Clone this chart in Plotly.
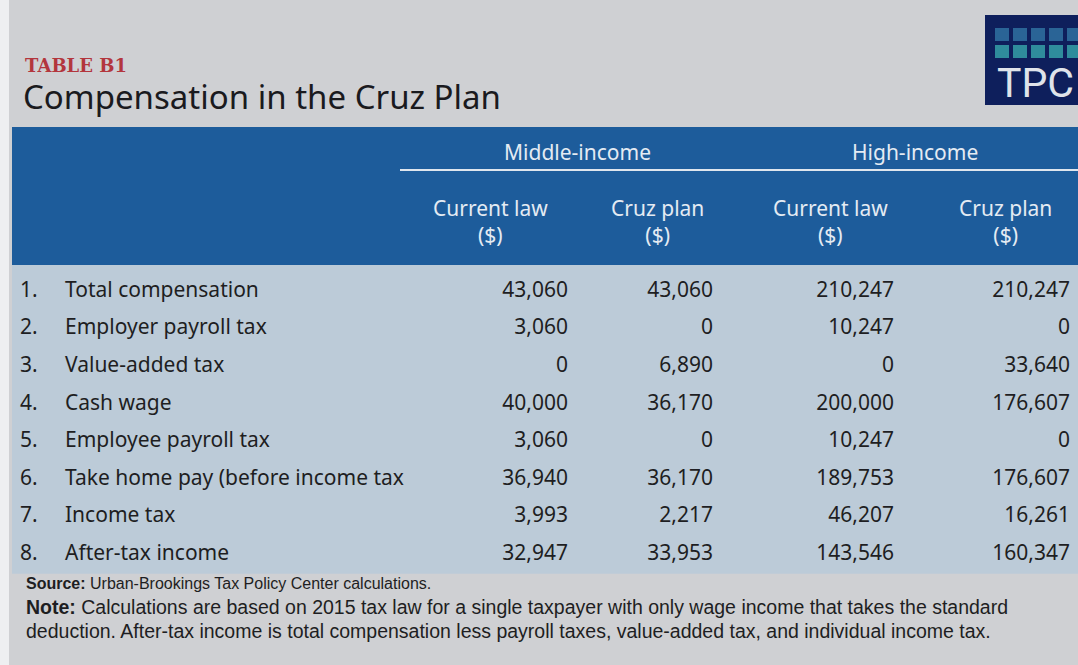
import plotly.graph_objects as go

W, H = 1078, 665

row_nums = ["1.", "2.", "3.", "4.", "5.", "6.", "7.", "8."]
row_labels = ["Total compensation", "Employer payroll tax", "Value-added tax",
              "Cash wage", "Employee payroll tax",
              "Take home pay (before income tax", "Income tax", "After-tax income"]
mid_current = [43060, 3060, 0, 40000, 3060, 36940, 3993, 32947]
mid_cruz = [43060, 0, 6890, 36170, 0, 36170, 2217, 33953]
high_current = [210247, 10247, 0, 200000, 10247, 189753, 46207, 143546]
high_cruz = [210247, 0, 33640, 176607, 0, 176607, 16261, 160347]
group_labels = ["Middle-income", "High-income"]
sub_labels = ["Current law<br>($)", "Cruz plan<br>($)", "Current law<br>($)", "Cruz plan<br>($)"]

BLUE = "#1d5c9b"
BODY = "#bccbd8"
BG = "#cfd0d3"
TXT = "#1e1e22"
HDR_TXT = "#e4ebf3"
FONT = "Noto Sans, Lato, sans-serif"
FOOT = "Liberation Sans, sans-serif"


def fmt(v):
    return [f"{x:,}" for x in v]


def px(x):
    return x / W


def py(y):
    return 1 - y / H


col_px = [45, 363, 156, 145, 181, 176]
tbl_x0, tbl_x1 = 12, 1078
band_top, band_bottom = 127, 265
row_h = 37.6
gap_h = 8
body_bottom = band_bottom + gap_h + 8 * row_h

fig = go.Figure()
fig.add_trace(go.Table(
    domain=dict(x=[px(tbl_x0), px(tbl_x1)], y=[py(body_bottom), py(band_bottom)]),
    columnwidth=col_px,
    header=dict(
        values=[""] * 6,
        fill_color=BODY,
        line_color=BODY,
        height=gap_h,
        font=dict(size=1),
    ),
    cells=dict(
        values=[row_nums, row_labels, fmt(mid_current), fmt(mid_cruz),
                fmt(high_current), fmt(high_cruz)],
        fill_color=BODY,
        line_color=BODY,
        align=["left", "left", "right", "right", "right", "right"],
        font=dict(family=FONT, size=21, color=TXT),
        height=row_h,
    ),
))

shapes = [
    dict(type="rect", xref="paper", yref="paper", x0=0, x1=px(9),
         y0=0, y1=1, fillcolor="#eeeff1", line_width=0, layer="below"),
    dict(type="rect", xref="paper", yref="paper", x0=px(tbl_x0), x1=px(tbl_x1),
         y0=py(body_bottom), y1=py(band_bottom), fillcolor=BODY, line_width=0, layer="below"),
    dict(type="rect", xref="paper", yref="paper", x0=px(tbl_x0), x1=px(tbl_x1),
         y0=py(band_bottom), y1=py(band_top), fillcolor=BLUE, line_width=0, layer="below"),
    dict(type="line", xref="paper", yref="paper", x0=px(400), x1=px(1078),
         y0=py(170), y1=py(170), line=dict(color="#dfe6ee", width=2)),
    dict(type="rect", xref="paper", yref="paper", x0=px(985), x1=px(1078),
         y0=py(105), y1=py(15), fillcolor="#0e1f5c", line_width=0),
]
# TPC logo squares
sq_colors = ["#2a6496", "#2f8c9c"]
for r in range(2):
    for c in range(5):
        x0 = 995 + c * 18
        y0 = 28 + r * 17
        shapes.append(dict(type="rect", xref="paper", yref="paper",
                           x0=px(x0), x1=px(x0 + 14), y0=py(y0 + 13), y1=py(y0),
                           fillcolor=sq_colors[r], line_width=0))

hdr_centers = [490, 657, 830, 1005]
annotations = [
    dict(text="<b>TABLE B1</b>", x=px(23), y=py(65), xanchor="left", yanchor="middle",
         font=dict(family="DejaVu Serif, serif", size=18, color="#b3363d")),
    dict(text="Compensation in the Cruz Plan", x=px(21), y=py(96), xanchor="left",
         yanchor="middle", font=dict(family=FONT, size=33, color="#1a1a1e")),
    dict(text="TPC", x=px(995), y=py(83), xanchor="left", yanchor="middle",
         font=dict(family="Roboto, sans-serif", size=41, color="#dfe3ea")),
    dict(text=group_labels[0], x=px(577), y=py(152), xanchor="center", yanchor="middle",
         font=dict(family=FONT, size=21, color=HDR_TXT)),
    dict(text=group_labels[1], x=px(915), y=py(152), xanchor="center", yanchor="middle",
         font=dict(family=FONT, size=21, color=HDR_TXT)),
    dict(text="<b>Source:</b> Urban-Brookings Tax Policy Center calculations.",
         x=px(24), y=py(583), xanchor="left", yanchor="middle",
         font=dict(family=FOOT, size=16, color=TXT)),
    dict(text="<b>Note:</b> Calculations are based on 2015 tax law for a single taxpayer with only wage income that takes the standard",
         x=px(24), y=py(607), xanchor="left", yanchor="middle",
         font=dict(family=FOOT, size=19.5, color=TXT)),
    dict(text="deduction. After-tax income is total compensation less payroll taxes, value-added tax, and individual income tax.",
         x=px(24), y=py(631), xanchor="left", yanchor="middle",
         font=dict(family=FOOT, size=19.5, color=TXT)),
]
for xc, lab in zip(hdr_centers, sub_labels):
    annotations.append(dict(text=lab, x=px(xc), y=py(221), xanchor="center",
                            yanchor="middle", align="center",
                            font=dict(family=FONT, size=21, color=HDR_TXT)))
for a in annotations:
    a.update(xref="paper", yref="paper", showarrow=False)

fig.update_layout(
    width=W, height=H,
    margin=dict(l=0, r=0, t=0, b=0),
    paper_bgcolor=BG,
    plot_bgcolor=BG,
    shapes=shapes,
    annotations=annotations,
)
fig.write_html("out.html", config={"displayModeBar": False},
               post_script="document.body.style.margin='0';document.body.style.overflow='hidden';")
